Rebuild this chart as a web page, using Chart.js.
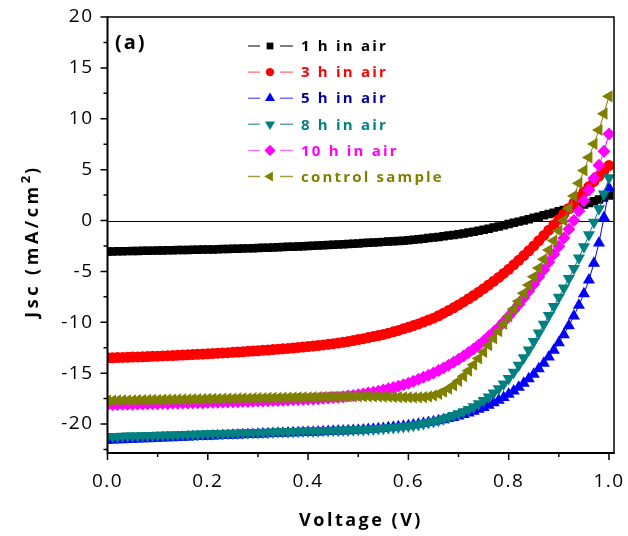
<!DOCTYPE html>
<html><head><meta charset="utf-8">
<script src="https://cdn.jsdelivr.net/npm/chart.js@4.4.0/dist/chart.umd.min.js"></script>
<style>html,body{margin:0;padding:0;background:#fff}#wrap{width:628px;height:536px}</style>
</head><body><div id="wrap"><canvas id="c" width="628" height="536"></canvas></div>
<script>
const voltage = [0.00,0.01,0.02,0.03,0.04,0.05,0.06,0.07,0.08,0.09,
0.10,0.11,0.12,0.13,0.14,0.15,0.16,0.17,0.18,0.19,
0.20,0.21,0.22,0.23,0.24,0.25,0.26,0.27,0.28,0.29,
0.30,0.31,0.32,0.33,0.34,0.35,0.36,0.37,0.38,0.39,
0.40,0.41,0.42,0.43,0.44,0.45,0.46,0.47,0.48,0.49,
0.50,0.51,0.52,0.53,0.54,0.55,0.56,0.57,0.58,0.59,
0.60,0.61,0.62,0.63,0.64,0.65,0.66,0.67,0.68,0.69,
0.70,0.71,0.72,0.73,0.74,0.75,0.76,0.77,0.78,0.79,
0.80,0.81,0.82,0.83,0.84,0.85,0.86,0.87,0.88,0.89,
0.90,0.91,0.92,0.93,0.94,0.95,0.96,0.97,0.98,0.99,1.00];

const j1h = [-3.05,-3.04,-3.03,-3.02,-3.01,-3.00,-2.99,-2.98,-2.97,-2.96,
-2.95,-2.94,-2.93,-2.92,-2.91,-2.90,-2.89,-2.88,-2.87,-2.86,
-2.85,-2.84,-2.82,-2.81,-2.80,-2.78,-2.77,-2.75,-2.74,-2.72,
-2.70,-2.68,-2.67,-2.65,-2.63,-2.61,-2.59,-2.57,-2.55,-2.53,
-2.50,-2.48,-2.46,-2.43,-2.41,-2.38,-2.36,-2.33,-2.31,-2.28,
-2.25,-2.22,-2.19,-2.16,-2.13,-2.10,-2.07,-2.04,-2.01,-1.98,
-1.94,-1.89,-1.84,-1.79,-1.73,-1.67,-1.61,-1.55,-1.48,-1.42,
-1.35,-1.27,-1.19,-1.10,-1.00,-0.90,-0.80,-0.69,-0.58,-0.47,
-0.35,-0.23,-0.11,0.01,0.13,0.26,0.38,0.51,0.64,0.77,
0.90,1.03,1.16,1.30,1.44,1.58,1.73,1.90,2.07,2.25,2.45];

const j3h = [-13.50,-13.49,-13.47,-13.46,-13.44,-13.42,-13.41,-13.39,-13.37,-13.35,
-13.33,-13.31,-13.29,-13.27,-13.25,-13.22,-13.20,-13.17,-13.15,-13.12,
-13.10,-13.07,-13.04,-13.02,-12.99,-12.96,-12.93,-12.90,-12.86,-12.83,
-12.80,-12.76,-12.73,-12.69,-12.65,-12.61,-12.57,-12.53,-12.48,-12.44,
-12.39,-12.34,-12.29,-12.23,-12.17,-12.11,-12.04,-11.97,-11.89,-11.80,
-11.70,-11.61,-11.51,-11.41,-11.31,-11.20,-11.07,-10.94,-10.80,-10.65,
-10.50,-10.33,-10.16,-9.98,-9.79,-9.60,-9.36,-9.11,-8.85,-8.58,
-8.30,-8.00,-7.69,-7.37,-7.04,-6.70,-6.34,-5.97,-5.59,-5.20,
-4.80,-4.36,-3.91,-3.45,-2.98,-2.50,-1.99,-1.47,-0.95,-0.43,
0.10,0.64,1.18,1.72,2.26,2.80,3.32,3.84,4.36,4.88,5.40];

const j5h = [-21.60,-21.58,-21.56,-21.54,-21.52,-21.50,-21.48,-21.46,-21.44,-21.42,
-21.40,-21.38,-21.36,-21.34,-21.32,-21.30,-21.28,-21.26,-21.24,-21.22,
-21.20,-21.18,-21.16,-21.14,-21.12,-21.10,-21.08,-21.06,-21.04,-21.02,
-21.00,-20.98,-20.96,-20.94,-20.92,-20.91,-20.89,-20.87,-20.85,-20.83,
-20.82,-20.80,-20.78,-20.76,-20.74,-20.72,-20.70,-20.68,-20.66,-20.64,
-20.62,-20.59,-20.55,-20.52,-20.47,-20.43,-20.38,-20.33,-20.28,-20.22,
-20.16,-20.10,-20.02,-19.95,-19.86,-19.78,-19.68,-19.58,-19.46,-19.35,
-19.21,-19.07,-18.91,-18.75,-18.56,-18.37,-18.15,-17.92,-17.66,-17.39,
-17.08,-16.75,-16.39,-16.00,-15.56,-15.10,-14.58,-14.03,-13.41,-12.75,
-12.01,-11.22,-10.34,-9.39,-8.34,-7.20,-5.85,-4.20,-2.20,0.30,3.20];

const j8h = [-21.25,-21.24,-21.22,-21.21,-21.19,-21.18,-21.17,-21.15,-21.14,-21.12,
-21.11,-21.10,-21.08,-21.07,-21.05,-21.04,-21.03,-21.01,-21.00,-20.98,
-20.97,-20.96,-20.94,-20.93,-20.91,-20.90,-20.89,-20.87,-20.86,-20.84,
-20.83,-20.82,-20.80,-20.79,-20.77,-20.76,-20.75,-20.73,-20.72,-20.70,
-20.69,-20.68,-20.66,-20.65,-20.63,-20.62,-20.61,-20.59,-20.58,-20.56,
-20.55,-20.53,-20.51,-20.48,-20.45,-20.42,-20.38,-20.34,-20.30,-20.25,
-20.20,-20.13,-20.05,-19.96,-19.86,-19.75,-19.62,-19.48,-19.33,-19.17,
-19.00,-18.80,-18.57,-18.31,-18.02,-17.70,-17.35,-16.96,-16.53,-16.06,
-15.54,-14.91,-14.23,-13.50,-12.72,-11.90,-11.06,-10.20,-9.33,-8.44,
-7.54,-6.63,-5.70,-4.72,-3.68,-2.58,-1.41,-0.17,1.15,2.60,4.20];

const j10h = [-18.10,-18.09,-18.08,-18.07,-18.06,-18.05,-18.04,-18.03,-18.02,-18.01,
-18.00,-17.99,-17.98,-17.97,-17.96,-17.94,-17.93,-17.92,-17.91,-17.90,
-17.88,-17.87,-17.86,-17.85,-17.83,-17.82,-17.81,-17.79,-17.78,-17.77,
-17.75,-17.73,-17.72,-17.70,-17.68,-17.66,-17.64,-17.62,-17.60,-17.58,
-17.56,-17.54,-17.51,-17.48,-17.44,-17.40,-17.36,-17.31,-17.26,-17.20,
-17.13,-17.05,-16.96,-16.87,-16.77,-16.66,-16.54,-16.42,-16.29,-16.15,
-16.00,-15.81,-15.61,-15.41,-15.20,-14.98,-14.74,-14.49,-14.22,-13.94,
-13.64,-13.32,-12.98,-12.62,-12.24,-11.84,-11.41,-10.96,-10.48,-9.96,
-9.42,-8.85,-8.25,-7.62,-6.96,-6.27,-5.56,-4.83,-4.08,-3.31,
-2.52,-1.71,-0.87,0.01,0.94,1.93,3.00,4.16,5.42,6.80,8.50];

const jControl = [-17.70,-17.69,-17.68,-17.67,-17.67,-17.66,-17.65,-17.64,-17.63,-17.62,
-17.62,-17.61,-17.60,-17.59,-17.58,-17.57,-17.57,-17.56,-17.55,-17.54,
-17.53,-17.52,-17.52,-17.51,-17.50,-17.49,-17.48,-17.47,-17.47,-17.46,
-17.45,-17.44,-17.43,-17.42,-17.42,-17.41,-17.40,-17.39,-17.38,-17.37,
-17.37,-17.36,-17.35,-17.34,-17.33,-17.33,-17.32,-17.31,-17.30,-17.29,
-17.28,-17.28,-17.28,-17.29,-17.30,-17.31,-17.32,-17.34,-17.36,-17.37,
-17.38,-17.39,-17.38,-17.36,-17.30,-17.20,-17.04,-16.82,-16.54,-16.20,
-15.78,-15.30,-14.76,-14.18,-13.56,-12.92,-12.26,-11.58,-10.88,-10.16,
-9.43,-8.69,-7.93,-7.15,-6.35,-5.53,-4.68,-3.81,-2.91,-1.98,
-1.01,0.00,1.20,2.42,3.66,4.92,6.20,7.52,8.90,10.50,12.20];

const seriesNames = ['1 h in air','3 h in air','5 h in air','8 h in air','10 h in air','control sample'];
const seriesValues = [j1h, j3h, j5h, j8h, j10h, jControl];
const seriesColors = ['#000000','#ff0000','#0000ff','#008080','#ff00ff','#808000'];
const legendLineColors = ['#555555','#ff7070','#7070ff','#60a8a8','#ff70ff','#a0a040'];
const textColors = ['#000000','#ff0000','#00009c','#008080','#ff00ff','#808000'];
const pointStyles = ['rect','circle','triangle','triangle','rectRot','triangle'];
const pointRotations = [0,0,0,180,0,270];
const pointRadii = [6,5.5,7,7,6.5,7];
const legendRadii = [4.8,4.2,5.8,5.8,5.6,5.8];

const xTicks = [0,0.2,0.4,0.6,0.8,1.0];
const xMinorTicks = [0.1,0.3,0.5,0.7,0.9];
const yTicks = [-20,-15,-10,-5,0,5,10,15,20];
const yMinorTicks = [-22.5,-17.5,-12.5,-7.5,-2.5,2.5,7.5,12.5,17.5];
const xTitle = 'Voltage (V)';
const yTitleMain = 'Jsc (mA/cm';
const yTitleSup = '2';
const yTitleTail = ')';
const panelLabel = '(a)';

const datasets = seriesNames.map((name, i) => ({
  label: name,
  data: voltage.map((v, k) => ({x: v, y: seriesValues[i][k]})),
  showLine: true,
  borderColor: seriesColors[i],
  borderWidth: 1,
  backgroundColor: seriesColors[i],
  pointStyle: pointStyles[i],
  pointRotation: pointRotations[i],
  pointRadius: pointRadii[i],
  pointHoverRadius: pointRadii[i],
  pointBackgroundColor: seriesColors[i],
  pointBorderColor: seriesColors[i],
  pointBorderWidth: 0,
  order: seriesNames.length - i,
  clip: 0
}));

function zeroPad(s) { s.paddingLeft = 0; s.paddingRight = 0; s.paddingTop = 0; s.paddingBottom = 0; }

const decor = {
  id: 'decor',
  beforeDraw(chart) {
    chart.ctx.letterSpacing = '1.5px';
  },
  beforeDatasetsDraw(chart) {
    const ctx = chart.ctx, a = chart.chartArea, ys = chart.scales.y;
    ctx.save();
    ctx.strokeStyle = '#000';
    ctx.lineWidth = 1;
    const y0 = Math.round(ys.getPixelForValue(0)) + 0.5;
    ctx.beginPath(); ctx.moveTo(a.left, y0); ctx.lineTo(a.right, y0); ctx.stroke();
    ctx.restore();
  },
  afterDatasetsDraw(chart) {
    const ctx = chart.ctx, a = chart.chartArea, xs = chart.scales.x, ys = chart.scales.y;
    ctx.save();
    ctx.letterSpacing = '0px';
    ctx.strokeStyle = '#000';
    ctx.lineWidth = 1.5;
    ctx.beginPath();
    ctx.moveTo(a.left, a.top); ctx.lineTo(a.right, a.top); ctx.lineTo(a.right, a.bottom);
    ctx.stroke();
    ctx.lineWidth = 2;
    ctx.beginPath();
    ctx.moveTo(a.left, a.top - 0.75); ctx.lineTo(a.left, a.bottom); ctx.lineTo(a.right + 0.75, a.bottom);
    ctx.stroke();
    ctx.lineWidth = 1.5;
    ctx.beginPath();
    xTicks.forEach(v => { const x = xs.getPixelForValue(v); ctx.moveTo(x, a.bottom); ctx.lineTo(x, a.bottom + 7); });
    xMinorTicks.forEach(v => { const x = xs.getPixelForValue(v); ctx.moveTo(x, a.bottom); ctx.lineTo(x, a.bottom + 4); });
    yTicks.forEach(v => { const y = ys.getPixelForValue(v); ctx.moveTo(a.left, y); ctx.lineTo(a.left - 7, y); });
    yMinorTicks.forEach(v => { const y = ys.getPixelForValue(v); ctx.moveTo(a.left, y); ctx.lineTo(a.left - 4, y); });
    ctx.stroke();

    const H = Chart.helpers;
    seriesNames.forEach((name, i) => {
      const y = 46 + i * 26.1;
      ctx.strokeStyle = legendLineColors[i];
      ctx.lineWidth = 1.4;
      ctx.beginPath();
      ctx.moveTo(248, y); ctx.lineTo(260, y);
      ctx.moveTo(280, y); ctx.lineTo(293, y);
      ctx.stroke();
      ctx.fillStyle = seriesColors[i];
      ctx.strokeStyle = seriesColors[i];
      H.drawPoint(ctx, {pointStyle: pointStyles[i], rotation: pointRotations[i], radius: legendRadii[i], borderWidth: 0}, 270, y);
      ctx.font = 'bold 15px "Open Sans"';
      ctx.letterSpacing = '2.2px';
      ctx.fillStyle = textColors[i];
      ctx.textAlign = 'left';
      ctx.textBaseline = 'middle';
      ctx.fillText(name, 301, y + 1);
    });

    ctx.fillStyle = '#000';
    ctx.font = 'bold 20px "Open Sans"';
    ctx.letterSpacing = '2px';
    ctx.textAlign = 'left';
    ctx.textBaseline = 'middle';
    ctx.fillText(panelLabel, 115, 43);

    ctx.font = 'bold 18px "Open Sans"';
    ctx.letterSpacing = '2.5px';
    ctx.textAlign = 'center';
    ctx.textBaseline = 'middle';
    ctx.fillText(xTitle, 361, 521);

    ctx.save();
    ctx.translate(33, 241);
    ctx.rotate(-Math.PI / 2);
    ctx.textAlign = 'left';
    ctx.textBaseline = 'middle';
    ctx.font = 'bold 18px "Open Sans"';
    ctx.letterSpacing = '3.5px';
    const w1 = ctx.measureText(yTitleMain).width;
    const w3 = ctx.measureText(yTitleTail).width;
    ctx.font = 'bold 13px "Open Sans"';
    ctx.letterSpacing = '2px';
    const w2 = ctx.measureText(yTitleSup).width;
    const start = -(w1 + w2 + w3) / 2;
    ctx.font = 'bold 18px "Open Sans"';
    ctx.letterSpacing = '3.5px';
    ctx.fillText(yTitleMain, start, 0);
    ctx.fillText(yTitleTail, start + w1 + w2, 0);
    ctx.font = 'bold 13px "Open Sans"';
    ctx.letterSpacing = '2px';
    ctx.fillText(yTitleSup, start + w1, -7);
    ctx.restore();

    ctx.restore();
  }
};

Chart.defaults.font.family = '"Open Sans"';
new Chart(document.getElementById('c'), {
  type: 'scatter',
  data: { datasets },
  options: {
    responsive: false,
    animation: false,
    devicePixelRatio: 1,
    layout: { autoPadding: false, padding: { left: 0, top: 17, right: 14, bottom: 0 } },
    plugins: { legend: { display: false }, tooltip: { enabled: false } },
    scales: {
      x: {
        type: 'linear', min: 0, max: 1.01,
        afterBuildTicks: s => { s.ticks = xTicks.map(v => ({ value: v })); },
        afterFit: s => { s.height = 83; zeroPad(s); },
        grid: { display: false, drawTicks: false },
        border: { display: false },
        ticks: { color: '#000', font: { size: 19 }, padding: 17, maxRotation: 0, autoSkip: false,
                 callback: v => Number(v).toFixed(1) }
      },
      y: {
        type: 'linear', min: -22.85, max: 20,
        afterBuildTicks: s => { s.ticks = yTicks.map(v => ({ value: v })); },
        afterFit: s => { s.width = 107.5; zeroPad(s); },
        grid: { display: false, drawTicks: false },
        border: { display: false },
        ticks: { color: '#000', font: { size: 19 }, padding: 14, autoSkip: false,
                 callback: v => String(v) }
      }
    }
  },
  plugins: [decor]
});
</script>
</body></html>
